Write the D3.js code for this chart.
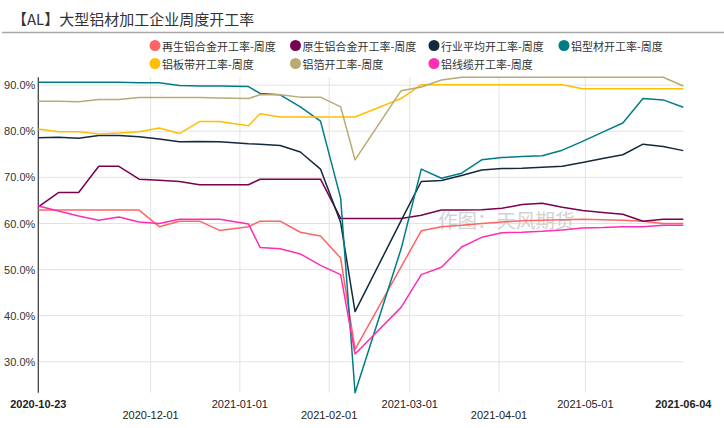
<!DOCTYPE html>
<html>
<head>
<meta charset="utf-8">
<script src="https://cdn.jsdelivr.net/npm/d3@7"></script>
<style>
  html, body { margin: 0; padding: 0; background: #fff; }
  svg { display: block; }
  text { font-family: "Liberation Sans", Arial, "Noto Sans CJK SC", sans-serif; }
  .cjk { font-family: "Noto Sans CJK SC", "Liberation Sans", sans-serif; }
</style>
</head>
<body>
<svg id="chart" width="724" height="428"></svg>
<script>
// ---------------- data ----------------
const titleText = "【AL】大型铝材加工企业周度开工率";
const watermarkText = "作图：天风期货";

const dates = [
  "2020-10-23","2020-10-30","2020-11-06","2020-11-13","2020-11-20","2020-11-27",
  "2020-12-04","2020-12-11","2020-12-18","2020-12-25","2021-01-04","2021-01-08",
  "2021-01-15","2021-01-22","2021-01-29","2021-02-05","2021-02-10","2021-02-26",
  "2021-03-05","2021-03-12","2021-03-19","2021-03-26","2021-04-02","2021-04-09",
  "2021-04-16","2021-04-23","2021-04-30","2021-05-07","2021-05-14","2021-05-21",
  "2021-05-28","2021-06-04"
];

const seriesNames = [
  "再生铝合金开工率-周度","原生铝合金开工率-周度","行业平均开工率-周度","铝型材开工率-周度",
  "铝板带开工率-周度","铝箔开工率-周度","铝线缆开工率-周度"
];

const recycledAlloy = [62.9,62.9,62.9,62.9,62.9,62.9,59.3,60.5,60.5,58.5,59.3,60.5,60.5,58.1,57.3,52.5,32.7,50.6,58.4,59.3,59.6,60.0,60.3,60.6,60.7,60.8,60.9,60.8,60.7,60.5,60.0,60.0];
const primaryAlloy  = [63.6,66.7,66.7,72.4,72.4,69.6,69.4,69.1,68.4,68.4,68.4,69.6,69.6,69.6,69.6,61.1,61.1,61.1,61.8,62.9,62.9,63.0,63.3,64.1,64.4,63.5,62.8,62.4,62.0,60.5,60.9,60.9];
const industryAvg   = [78.6,78.7,78.5,79.1,79.1,78.8,78.3,77.7,77.8,77.7,77.3,77.2,76.9,75.5,71.8,60.2,40.9,60.6,69.1,69.3,70.4,71.6,71.9,72.0,72.2,72.4,73.2,74.1,74.9,77.2,76.7,75.8];
const profiles      = [90.6,90.6,90.6,90.6,90.6,90.5,90.5,89.9,89.8,89.8,89.7,88.2,87.9,85.3,82.2,65.5,23.3,54.5,71.8,69.8,70.9,73.8,74.3,74.5,74.7,75.9,77.8,79.8,81.8,87.1,86.8,85.2];
const plateStrip    = [80.5,79.9,79.9,79.4,79.6,79.9,80.7,79.5,82.1,82.1,81.2,83.8,83.1,83.1,83.1,83.1,83.1,87.1,90.1,90.1,90.1,90.1,90.1,90.1,90.1,90.1,89.2,89.2,89.2,89.2,89.2,89.2];
const foil          = [86.5,86.5,86.4,86.9,86.9,87.3,87.3,87.3,87.3,87.2,87.1,87.9,87.9,87.4,87.4,85.3,73.8,88.8,89.6,91.1,91.7,91.7,91.7,91.7,91.7,91.7,91.7,91.7,91.7,91.7,91.7,89.8];
const wireCable     = [63.8,62.7,61.6,60.7,61.4,60.3,60.0,60.9,60.9,60.9,59.9,54.8,54.5,53.4,50.9,48.9,31.7,41.8,48.9,50.5,54.9,57.0,58.0,58.1,58.3,58.6,59.0,59.1,59.3,59.3,59.6,59.6];

const seriesValues = [recycledAlloy, primaryAlloy, industryAvg, profiles, plateStrip, foil, wireCable];
const seriesColors = ["#ff6464","#7a0050","#13293d","#007c86","#ffbf00","#b9aa72","#ff2db4"];

const yTicks = [30, 40, 50, 60, 70, 80, 90];
const xTickLabels = ["2020-10-23","2020-12-01","2021-01-01","2021-02-01","2021-03-01","2021-04-01","2021-05-01","2021-06-04"];

// ---------------- layout ----------------
const plot = { left: 38.3, right: 683.3, top: 77.3, bottom: 392.7 };
const legendCols = [155, 295.5, 434, 564];
const legendRows = [45.5, 63.5];

const svg = d3.select("#chart");
const parse = d3.utcParse("%Y-%m-%d");
const dateObjs = dates.map(parse);

const x = d3.scaleUtc()
  .domain([parse(xTickLabels[0]), parse(xTickLabels[xTickLabels.length - 1])])
  .range([plot.left, plot.right]);

const allVals = seriesValues.flat();
const y = d3.scaleLinear()
  .domain(d3.extent(allVals))
  .range([plot.bottom, plot.top]);

// title
svg.append("text")
  .attr("class", "cjk")
  .attr("x", 12).attr("y", 18.5)
  .attr("dominant-baseline", "central")
  .attr("font-size", 15)
  .attr("fill", "#333")
  .text(titleText);

svg.append("line")
  .attr("x1", 2).attr("x2", 724)
  .attr("y1", 32.5).attr("y2", 32.5)
  .attr("stroke", "#a8a8a8").attr("stroke-width", 1.5);

// legend
const legend = svg.append("g");
seriesNames.forEach((name, i) => {
  const col = i % 4, row = Math.floor(i / 4);
  const g = legend.append("g")
    .attr("transform", `translate(${legendCols[col]},${legendRows[row]})`);
  g.append("circle").attr("r", 5.5).attr("fill", seriesColors[i]);
  g.append("text")
    .attr("class", "cjk")
    .attr("x", 7).attr("y", 0)
    .attr("dominant-baseline", "central")
    .attr("font-size", 11)
    .attr("fill", "#333")
    .text(name);
});

// horizontal gridlines
svg.append("g").selectAll("line").data(yTicks).join("line")
  .attr("x1", plot.left).attr("x2", plot.right)
  .attr("y1", d => y(d)).attr("y2", d => y(d))
  .attr("stroke", "#e3e3e3").attr("stroke-width", 1);

// vertical gridlines (interior tick dates)
const innerTicks = xTickLabels.slice(1, -1).map(parse);
svg.append("g").selectAll("line").data(innerTicks).join("line")
  .attr("x1", d => x(d)).attr("x2", d => x(d))
  .attr("y1", plot.top).attr("y2", plot.bottom)
  .attr("stroke", "#e3e3e3").attr("stroke-width", 1);

// y axis
const yAxis = d3.axisLeft(y).tickValues(yTicks).tickSize(0).tickPadding(3)
  .tickFormat(d => d.toFixed(1) + "%");
const yg = svg.append("g").attr("transform", `translate(${plot.left},0)`).call(yAxis);
yg.select(".domain").remove();
yg.selectAll("text").attr("font-size", 11).attr("fill", "#333")
  .attr("font-family", "Liberation Sans, Arial, sans-serif");
svg.append("line")
  .attr("x1", plot.left).attr("x2", plot.left)
  .attr("y1", plot.top).attr("y2", plot.bottom)
  .attr("stroke", "#444").attr("stroke-width", 1.3);

// x axis labels (staggered)
const xg = svg.append("g");
xTickLabels.forEach((lbl, i) => {
  const isEnd = (i === 0 || i === xTickLabels.length - 1);
  const row = isEnd ? 0 : (i % 2 === 1 ? 1 : 0);
  xg.append("text")
    .attr("x", x(parse(lbl)))
    .attr("y", row === 0 ? 403.5 : 414.5)
    .attr("text-anchor", "middle")
    .attr("dominant-baseline", "central")
    .attr("font-size", 11)
    .attr("font-weight", isEnd ? "bold" : "normal")
    .attr("fill", "#222")
    .text(lbl);
});

// watermark
svg.append("text")
  .attr("class", "cjk")
  .attr("x", 438).attr("y", 219)
  .attr("dominant-baseline", "central")
  .attr("font-size", 19.5)
  .attr("fill", "#d2d2d2")
  .text(watermarkText);

// lines
const line = d3.line()
  .x((d, i) => x(dateObjs[i]))
  .y(d => y(d));

svg.append("g").selectAll("path").data(seriesValues).join("path")
  .attr("d", d => line(d))
  .attr("fill", "none")
  .attr("stroke", (d, i) => seriesColors[i])
  .attr("stroke-width", 1.5)
  .attr("stroke-linejoin", "round");
</script>
</body>
</html>
